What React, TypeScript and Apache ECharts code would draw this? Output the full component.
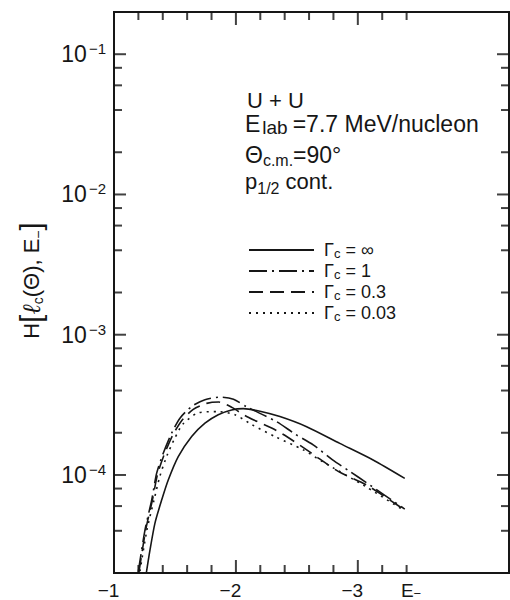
import React, { useEffect, useRef } from 'react';
import * as echarts from 'echarts';

const FONT = '"Liberation Sans", Arial, Helvetica, sans-serif';
const INK = '#161616';

// axis ranges
const X_MIN = -4.24;
const X_MAX = -1;
const Y_MIN = 2e-5;
const Y_MAX = 0.2;

// tick values
const xLabelValues = [-1, -2, -3, -3.4];
const xMajorTicks = [-2, -3];
const xMinorTicks = [-1.2, -1.4, -1.6, -1.8, -2.2, -2.4, -2.6, -2.8, -3.2, -3.4];
const yMajorTicks = [1e-4, 1e-3, 1e-2, 1e-1];
const yMinorTicks = [4e-5, 6e-5, 8e-5, 2e-4, 4e-4, 6e-4, 8e-4, 2e-3, 4e-3, 6e-3, 8e-3, 2e-2, 4e-2, 6e-2, 8e-2];

const seriesNames = ['Γc = ∞', 'Γc = 1', 'Γc = 0.3', 'Γc = 0.03'];

// Γc = ∞ (solid)
const eInf = [-1.265, -1.295, -1.336, -1.391, -1.445, -1.527, -1.637, -1.746, -1.855, -1.965, -2.06, -2.197, -2.361, -2.58, -2.852, -3.125, -3.385];
const hInf = [2.0e-5, 2.91e-5, 4.54e-5, 6.62e-5, 9.2e-5, 1.35e-4, 1.88e-4, 2.34e-4, 2.69e-4, 2.91e-4, 2.97e-4, 2.85e-4, 2.61e-4, 2.21e-4, 1.68e-4, 1.28e-4, 9.46e-5];

// Γc = 1 (dash-dot)
const e1 = [-1.199, -1.254, -1.309, -1.35, -1.404, -1.473, -1.541, -1.637, -1.746, -1.88, -1.98, -2.088, -2.334, -2.484, -2.634, -2.793, -2.934, -3.071, -3.385];
const h1 = [2.04e-5, 4.05e-5, 6.62e-5, 1.03e-4, 1.43e-4, 1.99e-4, 2.54e-4, 3.08e-4, 3.44e-4, 3.59e-4, 3.47e-4, 3.06e-4, 2.4e-4, 1.96e-4, 1.64e-4, 1.28e-4, 1.06e-4, 8.81e-5, 5.71e-5];

// Γc = 0.3 (dashed)
const e03 = [-1.205, -1.26, -1.315, -1.357, -1.412, -1.483, -1.555, -1.65, -1.76, -1.86, -1.97, -2.088, -2.293, -2.416, -2.62, -2.839, -3.071, -3.385];
const h03 = [2.04e-5, 4.05e-5, 6.62e-5, 1.01e-4, 1.4e-4, 1.93e-4, 2.44e-4, 2.94e-4, 3.24e-4, 3.31e-4, 3.02e-4, 2.61e-4, 2.16e-4, 1.88e-4, 1.43e-4, 1.06e-4, 8.49e-5, 5.62e-5];

// Γc = 0.03 (dotted)
const e003 = [-1.213, -1.27, -1.328, -1.377, -1.434, -1.5, -1.566, -1.689, -1.852, -1.992, -2.129, -2.32, -2.552, -2.713, -3.071, -3.385];
const h003 = [2.06e-5, 4.05e-5, 6.62e-5, 9.84e-5, 1.37e-4, 1.84e-4, 2.31e-4, 2.77e-4, 2.83e-4, 2.69e-4, 2.29e-4, 1.88e-4, 1.51e-4, 1.24e-4, 8.2e-5, 5.53e-5];

const zip = (xs: number[], ys: number[]) => xs.map((x, i) => [x, ys[i]]);

// tick marks as thin rect symbols anchored on the frame, pointing inward
function tickSeries(data: number[][], side: 'left' | 'right' | 'bottom' | 'top', len: number): any {
  const w = 2;
  const horizontal = side === 'left' || side === 'right';
  return {
    name: 'tick' + side + len,
    type: 'scatter',
    data,
    symbol: 'rect',
    symbolSize: horizontal ? [len, w] : [w, len],
    symbolOffset:
      side === 'left' ? [len / 2, 0] :
      side === 'right' ? [-len / 2, 0] :
      side === 'bottom' ? [0, -len / 2] : [0, len / 2],
    itemStyle: { color: '#111111' },
    clip: false,
  };
}

function buildOption(): any {
  const curves = [
    { name: seriesNames[0], data: zip(eInf, hInf), type: 'solid' as any },
    { name: seriesNames[1], data: zip(e1, h1), type: [18, 5, 2, 5] },
    { name: seriesNames[2], data: zip(e03, h03), type: [14, 7] },
    { name: seriesNames[3], data: zip(e003, h003), type: [2, 5] },
  ];

  const sup = (n: number) => `{b|10}{e|−${n}}`;

  return {
    animation: false,
    backgroundColor: '#ffffff',
    grid: {
      left: 114, right: 1, top: 12, bottom: 27,
      containLabel: false,
      show: true, borderColor: INK, borderWidth: 2,
    },
    xAxis: {
      type: 'value', min: X_MIN, max: X_MAX, inverse: true,
      axisLine: { show: false }, splitLine: { show: false }, axisTick: { show: false },
      axisLabel: {
        customValues: xLabelValues,
        margin: 8,
        color: INK,
        fontFamily: FONT,
        formatter: (v: number) => (Math.abs(v + 3.4) < 1e-6 ? '{e|E}{m|−}' : `{n|−${Math.round(Math.abs(v))}}`),
        rich: {
          n: { fontSize: 19, fontFamily: FONT, color: INK, padding: [0, 11, 0, 0], lineHeight: 19 },
          e: { fontSize: 19, fontFamily: FONT, color: INK, padding: [0, 0, 0, 9], lineHeight: 19 },
          m: { fontSize: 13, fontFamily: FONT, color: INK, lineHeight: 8, verticalAlign: 'bottom' },
        },
      },
    },
    yAxis: {
      type: 'log', logBase: 10, min: Y_MIN, max: Y_MAX,
      axisLine: { show: false }, axisTick: { show: false }, splitLine: { show: false },
      axisLabel: {
        margin: 8,
        formatter: (v: number) => {
          const e = Math.log10(v);
          if (Math.abs(e - Math.round(e)) > 1e-6) return '';
          return sup(-Math.round(e));
        },
        rich: {
          b: { fontSize: 23, fontFamily: FONT, color: INK, lineHeight: 26 },
          e: { fontSize: 15, fontFamily: FONT, color: INK, lineHeight: 15, verticalAlign: 'top', padding: [0, 0, 0, 2] },
        },
      },
      name: '{n|H}{b|[}{l|ℓ}{s|c}{n|(Θ), E}{s|−}{b|]}',
      nameLocation: 'middle',
      nameRotate: 90,
      nameGap: 69,
      nameTextStyle: {
        padding: [0, 0, 0, 24],
        rich: {
          n: { fontSize: 22, fontFamily: FONT, color: INK, lineHeight: 28 },
          b: { fontSize: 29, fontFamily: FONT, color: INK, lineHeight: 28 },
          l: { fontSize: 25, fontFamily: '"DejaVu Serif", serif', fontStyle: 'italic', color: INK, lineHeight: 28 },
          s: { fontSize: 14, fontFamily: FONT, color: INK, lineHeight: 14, verticalAlign: 'bottom' },
        },
      },
    },
    legend: {
      data: seriesNames,
      orient: 'vertical',
      left: 248,
      top: 241,
      itemWidth: 65,
      itemHeight: 14,
      itemGap: 2,
      padding: 0,
      selectedMode: false,
      itemStyle: { opacity: 0 },
      formatter: (name: string) => `{g|Γ}{s|c}{t| = ${name.replace(/^Γc = /, '')}}`,
      textStyle: {
        fontFamily: FONT, color: INK, fontSize: 18,
        rich: {
          g: { fontSize: 18, fontFamily: FONT, color: INK, lineHeight: 20, padding: [0, 0, 0, 5] },
          s: { fontSize: 13, fontFamily: FONT, color: INK, lineHeight: 10, verticalAlign: 'bottom' },
          t: { fontSize: 18, fontFamily: FONT, color: INK, lineHeight: 20 },
        },
      },
    },
    graphic: {
      elements: [
        { type: 'text', x: 247, y: 100, silent: true,
          style: { text: 'U + U', font: `22px ${FONT}`, fill: INK, verticalAlign: 'middle' } },
        { type: 'text', x: 245, y: 124, silent: true,
          style: {
            text: '{b|E}{s|lab}{b|=7.7 MeV/nucleon}', verticalAlign: 'middle', fill: INK,
            rich: {
              b: { fontSize: 23, fontFamily: FONT, fill: INK, lineHeight: 26 },
              s: { fontSize: 19, fontFamily: FONT, fill: INK, lineHeight: 18, verticalAlign: 'bottom', padding: [0, 5, 0, 2] },
            },
          } },
        { type: 'text', x: 245, y: 155, silent: true,
          style: {
            text: '{b|Θ}{s|c.m.}{b|=90°}', verticalAlign: 'middle', fill: INK,
            rich: {
              b: { fontSize: 23, fontFamily: FONT, fill: INK, lineHeight: 26 },
              s: { fontSize: 16, fontFamily: FONT, fill: INK, lineHeight: 16, verticalAlign: 'bottom' },
            },
          } },
        { type: 'text', x: 245, y: 181, silent: true,
          style: {
            text: '{b|p}{s|1/2}{b| cont.}', verticalAlign: 'middle', fill: INK,
            rich: {
              b: { fontSize: 22, fontFamily: FONT, fill: INK, lineHeight: 30 },
              s: { fontSize: 16, fontFamily: FONT, fill: INK, lineHeight: 14, verticalAlign: 'bottom' },
            },
          } },
      ],
    },
    series: [
      ...curves.map((c) => ({
        name: c.name,
        type: 'line',
        data: c.data,
        symbol: 'none',
        showSymbol: false,
        smooth: 0.25,
        lineStyle: { color: INK, width: 1.6, type: c.type },
        itemStyle: { color: INK },
      })),
      tickSeries(yMajorTicks.map((v) => [X_MAX, v]), 'left', 12),
      tickSeries(yMinorTicks.map((v) => [X_MAX, v]), 'left', 8),
      tickSeries(yMajorTicks.map((v) => [X_MIN, v]), 'right', 12),
      tickSeries(yMinorTicks.map((v) => [X_MIN, v]), 'right', 8),
      tickSeries(xMajorTicks.map((v) => [v, Y_MIN]), 'bottom', 13),
      tickSeries(xMinorTicks.map((v) => [v, Y_MIN]), 'bottom', 8),
      tickSeries(xMajorTicks.map((v) => [v, Y_MAX]), 'top', 13),
      tickSeries(xMinorTicks.map((v) => [v, Y_MAX]), 'top', 8),
    ],
  };
}

export default function App() {
  const ref = useRef<HTMLDivElement>(null);
  useEffect(() => {
    if (!ref.current) return;
    const chart = echarts.init(ref.current, undefined, { renderer: 'svg' });
    chart.setOption(buildOption());
    return () => chart.dispose();
  }, []);
  return (
    <div
      ref={ref}
      style={{ position: 'absolute', left: 0, top: 0, width: 510, height: 600, background: '#fff' }}
    />
  );
}
